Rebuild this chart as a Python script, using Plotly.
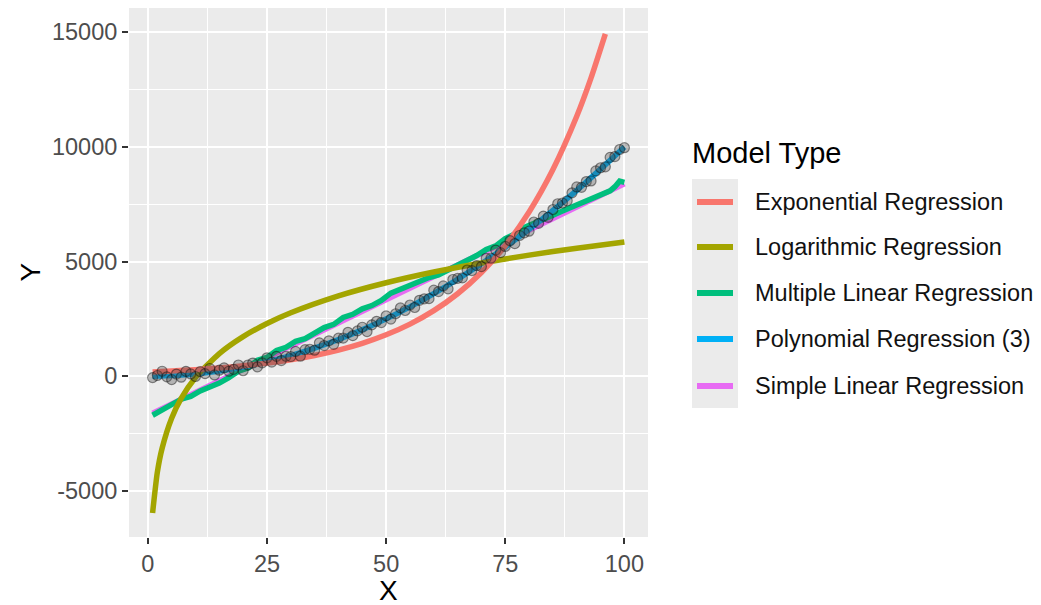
import plotly.graph_objects as go

# Observed data
x_obs = list(range(1, 101))
y_obs = [
    -59, 34, 219, -24, -145, 96, -41, 214, 101, -10,
    201, 114, 339, 56, 265, 366, 219, 304, 491, 240,
    491, 574, 409, 586, 805, 616, 869, 684, 871, 860,
    1081, 874, 1159, 1176, 1135, 1456, 1339, 1544, 1391, 1660,
    1661, 1914, 1769, 1976, 2135, 1946, 2239, 2394, 2341, 2630,
    2491, 2724, 2979, 2866, 3105, 2996, 3309, 3374, 3381, 3750,
    3691, 3934, 3809, 4216, 4265, 4286, 4629, 4604, 4821, 4780,
    5141, 5144, 5499, 5386, 5655, 5906, 5779, 6134, 6251, 6320,
    6721, 6664, 6979, 6926, 7265, 7516, 7549, 7644, 7991, 8250,
    8231, 8484, 8509, 8946, 9085, 9126, 9539, 9574, 9881, 9960,
]

# Model predictions
x_exp = [1, 5, 10, 15, 20, 25, 30, 35, 40, 45, 50, 55, 60, 65, 70, 75, 80, 85, 90, 93, 96]
y_exp = [190, 229, 288, 362, 456, 573, 721, 907, 1141, 1436, 1806, 2272, 2859, 3596,
         4523, 5690, 7158, 9007, 11326, 13000, 14918]

x_log = [1, 2, 3, 5, 7, 10, 15, 20, 25, 30, 40, 50, 60, 70, 80, 90, 100]
y_log = [-5956, -4179, -3139, -1829, -967, -52, 987, 1725, 2297, 2765, 3502, 4074,
         4542, 4937, 5279, 5581, 5852]

x_mlr = [1, 3, 5, 7, 9, 11, 13, 15, 17, 19, 21, 23, 25, 27, 29, 31, 33, 35, 37, 39,
         41, 43, 45, 47, 49, 51, 53, 55, 57, 59, 61, 63, 65, 67, 69, 71, 73, 75, 77,
         79, 81, 83, 85, 87, 89, 91, 93, 95, 96, 97, 98, 99, 100]
y_mlr = [-1700, -1480, -1280, -1000, -880, -640, -470, -300, -60, 220, 360, 700, 820,
         1120, 1260, 1520, 1640, 1900, 2120, 2260, 2560, 2700, 2940, 3080, 3300, 3620,
         3790, 3980, 4160, 4300, 4420, 4620, 4800, 5060, 5260, 5520, 5680, 6000, 6200,
         6480, 6680, 6860, 7020, 7200, 7380, 7560, 7740, 7920, 7960, 8080, 8260, 8500,
         8450]

x_poly = [1, 5, 10, 15, 20, 25, 30, 35, 40, 45, 50, 55, 60, 65, 70, 75, 80, 85, 90, 95, 100]
y_poly = [5, 30, 100, 225, 400, 625, 900, 1225, 1600, 2025, 2500, 3025, 3600, 4225,
          4900, 5625, 6400, 7225, 8100, 9025, 9990]

x_slr = [1, 100]
y_slr = [-1616, 8383]

models = ["Exponential Regression", "Logarithmic Regression", "Multiple Linear Regression",
          "Polynomial Regression (3)", "Simple Linear Regression"]
colors = ["#F8766D", "#A3A500", "#00BF7D", "#00B0F6", "#E76BF3"]

series = {
    models[0]: (x_exp, y_exp, "spline"),
    models[1]: (x_log, y_log, "spline"),
    models[2]: (x_mlr, y_mlr, "linear"),
    models[3]: (x_poly, y_poly, "spline"),
    models[4]: (x_slr, y_slr, "linear"),
}
draw_order = [4, 2, 3, 1, 0]

FONT = "Liberation Sans, Arial, sans-serif"
W, H = 1041, 605
L, R, T, B = 129, 393, 8, 68
pw, ph = W - L - R, H - T - B

fig = go.Figure()
for i in draw_order:
    xs, ys, shape = series[models[i]]
    fig.add_trace(go.Scatter(
        x=xs, y=ys, mode="lines", name=models[i],
        line=dict(color=colors[i], width=5.5, shape=shape, smoothing=0.6),
        showlegend=False,
    ))

fig.add_trace(go.Scatter(
    x=x_obs, y=y_obs, mode="markers", name="Observed",
    marker=dict(size=10, color="rgba(70,70,70,0.34)",
                line=dict(color="rgba(10,10,10,0.45)", width=1.2)),
    showlegend=False,
))


def px_x(p):
    return (p - L) / pw


def px_y(p):
    return (H - B - p) / ph


shapes = []
annotations = []

# Legend: key background, key lines and labels
shapes.append(dict(type="rect", xref="paper", yref="paper",
                   x0=px_x(692), x1=px_x(738), y0=px_y(408), y1=px_y(179),
                   fillcolor="#EBEBEB", line=dict(width=0), layer="below"))
key_y = [202, 247, 293, 339, 386]
for name, col, ky in zip(models, colors, key_y):
    shapes.append(dict(type="line", xref="paper", yref="paper",
                       x0=px_x(697), x1=px_x(733), y0=px_y(ky), y1=px_y(ky),
                       line=dict(color=col, width=6)))
    annotations.append(dict(text=name, xref="paper", yref="paper",
                            x=px_x(753), y=px_y(ky), xanchor="left", yanchor="middle",
                            showarrow=False, font=dict(family=FONT, size=23.5, color="#111111")))
annotations.append(dict(text="Model Type", xref="paper", yref="paper",
                        x=px_x(690), y=px_y(153), xanchor="left", yanchor="middle",
                        showarrow=False, font=dict(family=FONT, size=29, color="#000000")))

# Axis titles
annotations.append(dict(text="X", xref="paper", yref="paper", x=0.5, y=px_y(590),
                        xanchor="center", yanchor="middle", showarrow=False,
                        font=dict(family=FONT, size=28, color="#000000")))
annotations.append(dict(text="Y", xref="paper", yref="paper", x=px_x(30), y=0.5,
                        xanchor="center", yanchor="middle", textangle=-90, showarrow=False,
                        font=dict(family=FONT, size=28, color="#000000")))

axis_common = dict(
    showgrid=True, gridcolor="#FFFFFF", gridwidth=2,
    zeroline=False, showline=False,
    ticks="outside", ticklen=6, tickwidth=2, tickcolor="#333333",
    tickfont=dict(family=FONT, size=23.5, color="#4D4D4D"),
)

fig.update_layout(
    width=W, height=H,
    margin=dict(l=L, r=R, t=T, b=B, autoexpand=False),
    plot_bgcolor="#EBEBEB", paper_bgcolor="#FFFFFF",
    xaxis=dict(range=[-3.95, 104.95], tickmode="array", tickvals=[0, 25, 50, 75, 100],
               ticklabelstandoff=0,
               minor=dict(tickmode="array", tickvals=[12.5, 37.5, 62.5, 87.5],
                          showgrid=True, gridcolor="#FFFFFF", gridwidth=1, ticks=""),
               **axis_common),
    yaxis=dict(range=[-7004, 16046], tickmode="array",
               tickvals=[-5000, 0, 5000, 10000, 15000],
               ticktext=["-5000", "0", "5000", "10000", "15000"],
               minor=dict(tickmode="array", tickvals=[-2500, 2500, 7500, 12500],
                          showgrid=True, gridcolor="#FFFFFF", gridwidth=1, ticks=""),
               **axis_common),
    shapes=shapes, annotations=annotations,
    showlegend=False,
)

fig.write_html("out.html")
